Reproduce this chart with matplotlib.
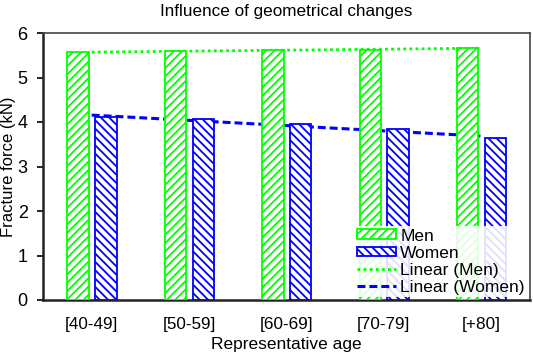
import matplotlib
matplotlib.use("Agg")
import matplotlib.pyplot as plt
import numpy as np

categories = ["[40-49]", "[50-59]", "[60-69]", "[70-79]", "[+80]"]
men = [5.57, 5.60, 5.61, 5.62, 5.67]
women = [4.11, 4.06, 3.955, 3.84, 3.63]
yticks = [0, 1, 2, 3, 4, 5, 6]

plt.rcParams['font.family'] = ['Liberation Sans', 'DejaVu Sans']
plt.rcParams['hatch.linewidth'] = 1.3

fig = plt.figure(figsize=(5.33, 3.55), dpi=100)
ax = fig.add_axes([43/533, 1-300/355, (530-43)/533, (300-33)/355])

x = np.arange(len(categories))
w = 0.22
green = '#00FF00'
blue = '#0000FF'

# trendlines (linear fits of the data), drawn behind bars
pm = np.polyfit(x, men, 1)
pw = np.polyfit(x, women, 1)
xs = np.array([x[0], x[-1]])

b1 = ax.bar(x - 0.14, men, width=w, facecolor='white', edgecolor=green, hatch='////',
            linewidth=1.3, label='Men', zorder=3)
b2 = ax.bar(x + 0.145, women, width=w, facecolor='white', edgecolor=blue, hatch='\\\\\\\\',
            linewidth=1.3, label='Women', zorder=3)
l1, = ax.plot(xs, np.polyval(pm, xs), linestyle=(0, (1, 1.2)), color=green, lw=2,
              label='Linear (Men)', zorder=2)
l2, = ax.plot(xs, np.polyval(pw, xs), linestyle=(0, (2.6, 1.3)), color=blue, lw=2.2,
              label='Linear (Women)', zorder=2)

ax.set_xlim(-0.5, len(categories) - 0.5)
ax.set_ylim(0, 6)
ax.set_yticks(yticks)
ax.set_xticks(x)
ax.set_xticklabels(categories)
ax.tick_params(axis='x', length=0, pad=12, labelsize=12.3)
ax.tick_params(axis='y', length=4, width=1.2, direction='out', pad=7, labelsize=13)

for s in ['left', 'bottom']:
    ax.spines[s].set_linewidth(1.8)
    ax.spines[s].set_color('#222222')
for s in ['top', 'right']:
    ax.spines[s].set_linewidth(1.2)
    ax.spines[s].set_color('#444444')

ax.set_title("Influence of geometrical changes", fontsize=12.3, pad=12)
ax.set_xlabel("Representative age", fontsize=12.5, labelpad=4)
ax.set_ylabel("Fracture force (kN)", fontsize=12, labelpad=1)

leg = ax.legend([b1, b2, l1, l2], ['Men', 'Women', 'Linear (Men)', 'Linear (Women)'],
                loc='lower right', bbox_to_anchor=(1.0, 0.0), fontsize=12.5,
                handlelength=2.25, handleheight=0.5, handletextpad=0.25,
                labelspacing=0.12, borderpad=0.15, borderaxespad=0.15,
                frameon=True, fancybox=False)
leg.get_frame().set_edgecolor('none')
leg.get_frame().set_facecolor('white')
leg.get_frame().set_alpha(0.88)
leg.set_zorder(5)

fig.savefig("out.png", dpi=100)
